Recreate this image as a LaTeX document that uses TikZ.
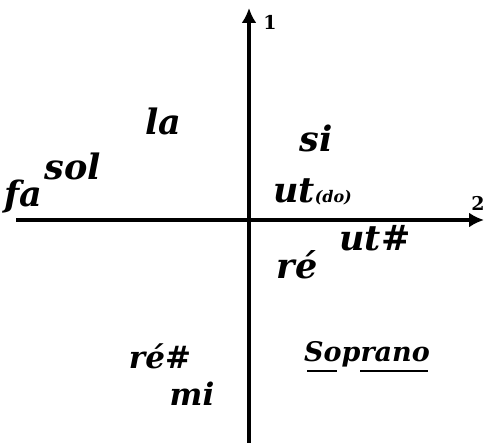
\documentclass[tikz,border=0pt]{standalone}
\usepackage{fontspec}
\newfontfamily\handfont{DejaVu Serif}
\usetikzlibrary{arrows.meta}
\tikzset{
  note/.style={font=\handfont\fontsize{35}{35}\selectfont\bfseries\itshape, inner sep=0pt},
  small/.style={font=\handfont\fontsize{19}{19}\selectfont\bfseries, inner sep=0pt},
  axis/.style={line width=3.2pt, -{Latex[length=15pt,width=15pt]}}
}
\begin{document}
\begin{tikzpicture}[x=1pt,y=-1pt]
\useasboundingbox (0,0) rectangle (484,443);
% axes
\coordinate (o) at (249,220);
\coordinate (left) at (16,220);
\coordinate (right) at (484,220);
\coordinate (bottom) at (249,443);
\coordinate (top) at (249,8);
\draw[axis] (left) -- (right);
\draw[axis] (bottom) -- (top);
\node[small] (one) at (270,22) {1};
\node[small] (two) at (478,203) {2};

% notes
\node[note] (fa) at (23,197) {fa};
\node[note] (sol) at (73,166) {sol};
\node[note] (la) at (163,121) {la};
\node[note] (si) at (316,138) {si};
\node[note, anchor=base west] (ut) at (273,203) {ut\fontsize{16}{16}\selectfont(do)};
\node[note] (utd) at (375,238) {ut\#};
\node[note] (re) at (297,265) {r\'e};
\node[note, font=\handfont\fontsize{31}{31}\selectfont\bfseries\itshape] (red) at (160,356) {r\'e\#};
\node[note, font=\handfont\fontsize{31}{31}\selectfont\bfseries\itshape] (mi) at (192,394) {mi};
\node[note, font=\handfont\fontsize{27}{27}\selectfont\bfseries\itshape] (sop) at (367,354) {Soprano};
\draw[line width=2pt] (307,371) -- (337,371);
\draw[line width=2pt] (360,371) -- (428,371);
\end{tikzpicture}
\end{document}
